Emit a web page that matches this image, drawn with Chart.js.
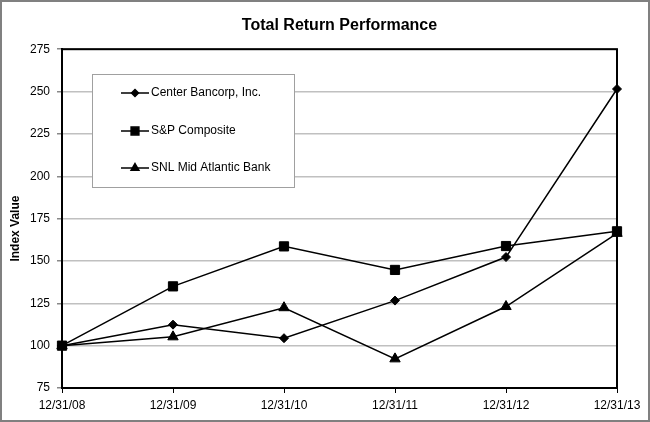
<!DOCTYPE html>
<html>
<head>
<meta charset="utf-8">
<script src="https://cdn.jsdelivr.net/npm/chart.js@4"></script>
<style>
  html, body { margin: 0; padding: 0; background: #fff; }
  #wrap { width: 650px; height: 422px; }
</style>
</head>
<body>
<div id="wrap"><canvas id="line"></canvas></div>
<script>
const dates = ['12/31/08', '12/31/09', '12/31/10', '12/31/11', '12/31/12', '12/31/13'];
const centerBancorp = [100, 112.4, 104.4, 126.6, 152.3, 251.5];
const spComposite = [100, 135, 158.6, 144.7, 158.8, 167.5];
const snlMidAtlantic = [100, 105.2, 122.4, 92.2, 123.1, 166.3];

const FONT = 'Liberation Sans, Arial, sans-serif';

// frame around the whole picture + box around plot area + y title
const framePlugin = {
  id: 'frame',
  beforeDraw(chart) {
    const ctx = chart.ctx;
    ctx.save();
    ctx.fillStyle = '#fff';
    ctx.fillRect(0, 0, chart.width, chart.height);
    ctx.restore();
  },
  afterDraw(chart) {
    const ctx = chart.ctx;
    const a = chart.chartArea;
    ctx.save();
    ctx.strokeStyle = '#000';
    ctx.lineWidth = 2;
    ctx.strokeRect(a.left, a.top, a.right - a.left, a.bottom - a.top);
    ctx.strokeStyle = '#808080';
    ctx.strokeRect(1, 1, chart.width - 2, chart.height - 2);
    // y axis title sits a bit below the middle of the plot in the original
    ctx.translate(16, (a.top + a.bottom) / 2 + 10);
    ctx.rotate(-Math.PI / 2);
    ctx.fillStyle = '#000';
    ctx.font = 'bold 12px ' + FONT;
    ctx.textAlign = 'center';
    ctx.textBaseline = 'middle';
    ctx.fillText('Index Value', 0, 0);
    ctx.restore();
  }
};

// legend drawn as a box inside the plot area
const boxLegend = {
  id: 'boxLegend',
  afterDatasetsDraw(chart) {
    const ctx = chart.ctx;
    const rows = [93, 131, 168];
    ctx.save();
    ctx.fillStyle = '#fff';
    ctx.strokeStyle = '#a0a0a0';
    ctx.lineWidth = 1;
    ctx.fillRect(92, 74, 202, 113);
    ctx.strokeRect(92.5, 74.5, 202, 113);
    chart.data.datasets.forEach((ds, i) => {
      const y = rows[i];
      ctx.strokeStyle = '#000';
      ctx.fillStyle = '#000';
      ctx.lineWidth = 1.5;
      ctx.beginPath();
      ctx.moveTo(121, y);
      ctx.lineTo(149, y);
      ctx.stroke();
      Chart.helpers.drawPoint(ctx, {
        pointStyle: ds.pointStyle,
        radius: ds.legendRadius,
        rotation: 0,
        borderWidth: 1
      }, 135, y);
      ctx.fillStyle = '#000';
      ctx.font = '12px ' + FONT;
      ctx.textBaseline = 'middle';
      ctx.textAlign = 'left';
      ctx.fillText(ds.label, 151, y);
    });
    ctx.restore();
  }
};

const ctx = document.getElementById('line');

new Chart(ctx, {
  type: 'line',
  data: {
    labels: dates,
    datasets: [
      {
        label: 'Center Bancorp, Inc.',
        data: centerBancorp,
        pointStyle: 'rectRot',
        pointRadius: 4.5,
        legendRadius: 3.5
      },
      {
        label: 'S&P Composite',
        data: spComposite,
        pointStyle: 'rect',
        pointRadius: 6.5,
        legendRadius: 5.5
      },
      {
        label: 'SNL Mid Atlantic Bank',
        data: snlMidAtlantic,
        pointStyle: 'triangle',
        pointRadius: 6,
        legendRadius: 4.5
      }
    ].map(ds => Object.assign({
      borderColor: '#000',
      backgroundColor: '#000',
      pointBackgroundColor: '#000',
      pointBorderColor: '#000',
      pointBorderWidth: 1,
      borderWidth: 1.5,
      tension: 0,
      fill: false
    }, ds))
  },
  options: {
    responsive: true,
    maintainAspectRatio: false,
    animation: false,
    layout: { padding: { left: 0, right: 33, top: 0, bottom: 0 } },
    plugins: {
      legend: { display: false },
      tooltip: { enabled: false },
      title: {
        display: true,
        text: 'Total Return Performance',
        fullSize: false,
        color: '#000',
        font: { family: FONT, size: 16, weight: 'bold' },
        padding: { top: 16, bottom: 14 }
      }
    },
    scales: {
      x: {
        offset: false,
        afterFit(scale) { scale.height = 34; },
        grid: { drawOnChartArea: false, tickLength: 5, tickColor: '#000', tickWidth: 1 },
        border: { color: '#000', width: 2 },
        ticks: { color: '#000', padding: 5, maxRotation: 0, font: { family: FONT, size: 12 } }
      },
      y: {
        min: 75,
        max: 275,
        afterFit(scale) { scale.width = 62; },
        grid: { color: '#c0c0c0', lineWidth: 1.5, tickLength: 5, tickColor: '#888' },
        border: { color: '#000', width: 2 },
        ticks: { stepSize: 25, color: '#000', padding: 7, font: { family: FONT, size: 12 } }
      }
    }
  },
  plugins: [framePlugin, boxLegend]
});
</script>
</body>
</html>
